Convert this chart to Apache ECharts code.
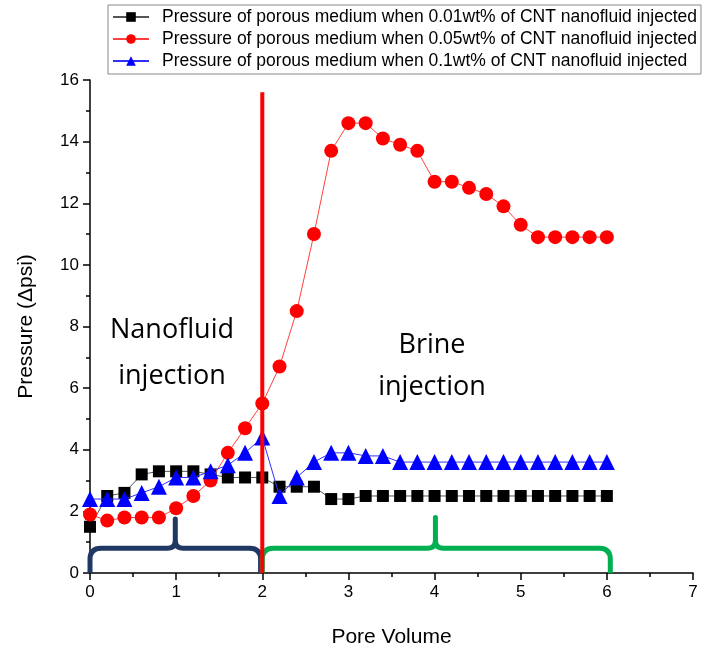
<!DOCTYPE html>
<html>
<head>
<meta charset="utf-8">
<script src="https://cdn.jsdelivr.net/npm/echarts@6/dist/echarts.min.js"></script>
<style>html,body{margin:0;padding:0;background:#fff}#c{width:704px;height:656px}</style>
</head>
<body>
<div id="c"></div>
<script>
var poreVolume = [0,0.2,0.4,0.6,0.8,1.0,1.2,1.4,1.6,1.8,2.0,2.2,2.4,2.6,2.8,3.0,3.2,3.4,3.6,3.8,4.0,4.2,4.4,4.6,4.8,5.0,5.2,5.4,5.6,5.8,6.0];
var p001 = [1.5,2.5,2.6,3.2,3.3,3.3,3.3,3.2,3.1,3.1,3.1,2.8,2.8,2.8,2.4,2.4,2.5,2.5,2.5,2.5,2.5,2.5,2.5,2.5,2.5,2.5,2.5,2.5,2.5,2.5,2.5];
var p005 = [1.9,1.7,1.8,1.8,1.8,2.1,2.5,3.0,3.9,4.7,5.5,6.7,8.5,11.0,13.7,14.6,14.6,14.1,13.9,13.7,12.7,12.7,12.5,12.3,11.9,11.3,10.9,10.9,10.9,10.9,10.9];
var p01  = [2.4,2.4,2.4,2.6,2.8,3.1,3.1,3.3,3.5,3.9,4.4,2.5,3.1,3.6,3.9,3.9,3.8,3.8,3.6,3.6,3.6,3.6,3.6,3.6,3.6,3.6,3.6,3.6,3.6,3.6,3.6];
var seriesNames = [
  'Pressure of porous medium when 0.01wt% of CNT nanofluid injected',
  'Pressure of porous medium when 0.05wt% of CNT nanofluid injected',
  'Pressure of porous medium when 0.1wt% of CNT nanofluid injected'
];
// divider line between injection stages
var dividerX = [2, 2];
var dividerY = [0, 15.6];
// braces: [start, end, level, tip x, tip height]
var braceNano  = [0, 1.98, 0.8, 0.99, 1.75];
var braceBrine = [2.0, 6.04, 0.8, 4.01, 1.8];
var xTicks = [0,1,2,3,4,5,6,7];

function pairs(xs, ys){ return xs.map(function(x,i){ return [x, ys[i]]; }); }

var chart = echarts.init(document.getElementById('c'));
var axisFont = {fontFamily:'Liberation Sans, Arial', fontSize:17, color:'#000'};
var annFont = {fontFamily:'Open Sans, Noto Sans', fontSize:27, fill:'#000', align:'center', verticalAlign:'middle'};

function braceItem(params, api){
  var x0 = api.value(0), x1 = api.value(1), h = api.value(2), tx = api.value(3), th = api.value(4);
  var a = api.coord([x0, 0]), b = api.coord([x1, 0]);
  var yh = api.coord([x0, h])[1];
  var tip = api.coord([tx, th]);
  var xm = tip[0], r = 11, rt = 8;
  var d = 'M' + a[0] + ' ' + a[1] +
    ' L' + a[0] + ' ' + (yh + r) +
    ' Q' + a[0] + ' ' + yh + ' ' + (a[0] + r) + ' ' + yh +
    ' L' + (xm - rt) + ' ' + yh +
    ' Q' + xm + ' ' + yh + ' ' + xm + ' ' + (yh - rt) +
    ' L' + xm + ' ' + tip[1] +
    ' L' + xm + ' ' + (yh - rt) +
    ' Q' + xm + ' ' + yh + ' ' + (xm + rt) + ' ' + yh +
    ' L' + (b[0] - r) + ' ' + yh +
    ' Q' + b[0] + ' ' + yh + ' ' + b[0] + ' ' + (yh + r) +
    ' L' + b[0] + ' ' + b[1];
  return {type:'path', shape:{pathData:d}, style:{fill:'none', stroke:api.visual('color'), lineWidth:5, lineJoin:'round', lineCap:'butt'}};
}

function txt(s, x, y){ return {type:'text', x:x, y:y, z:10, style:Object.assign({text:s}, annFont)}; }

chart.setOption({
  animation:false,
  backgroundColor:'#fff',
  grid:{left:90, right:11, top:80, bottom:83},
  legend:{
    data:seriesNames,
    orient:'vertical', left:108, top:5,
    borderColor:'#888', borderWidth:1, borderRadius:0,
    padding:[3,4,4,4], itemGap:4, itemWidth:36, itemHeight:12,
    textStyle:{fontFamily:'Liberation Sans, Arial', fontSize:17.5, color:'#000', padding:[0,0,0,8]}
  },
  xAxis:{
    type:'value', min:0, max:7, interval:1,
    name:'Pore Volume', nameLocation:'middle', nameGap:54,
    nameTextStyle:{fontFamily:'Liberation Sans, Arial', fontSize:21, color:'#000'},
    axisLine:{show:true, onZero:false, lineStyle:{color:'#000', width:1.5}},
    axisTick:{show:true, inside:false, length:7, lineStyle:{color:'#000', width:1.5}},
    minorTick:{show:true, splitNumber:2, length:4, lineStyle:{color:'#000', width:1.5}},
    axisLabel:Object.assign({margin:11, formatter:function(v){ return xTicks.indexOf(v) >= 0 ? String(v) : ''; }}, axisFont),
    splitLine:{show:false}
  },
  yAxis:{
    type:'value', min:0, max:16, interval:2,
    name:'Pressure (\u0394psi)', nameLocation:'middle', nameGap:53, nameRotate:90,
    nameTextStyle:{fontFamily:'Liberation Sans, Arial', fontSize:21, color:'#000'},
    axisLine:{show:true, lineStyle:{color:'#000', width:1.5}},
    axisTick:{show:true, inside:false, length:7, lineStyle:{color:'#000', width:1.5}},
    minorTick:{show:true, splitNumber:2, length:4, lineStyle:{color:'#000', width:1.5}},
    axisLabel:Object.assign({margin:11}, axisFont),
    splitLine:{show:false}
  },
  graphic:[
    txt('Nanofluid', 172, 330),
    txt('injection', 172, 376),
    txt('Brine', 432, 345),
    txt('injection', 432, 387)
  ],
  series:[
    {type:'custom', name:'braces', renderItem:braceItem, silent:true, z:1,
     encode:{x:[0,1,3], y:[2,4]},
     data:[{value:braceNano, itemStyle:{color:'#1f3864'}}, {value:braceBrine, itemStyle:{color:'#00b050'}}]},
    {type:'line', name:seriesNames[0], data:pairs(poreVolume,p001), symbol:'rect', symbolSize:12,
     itemStyle:{color:'#000'}, lineStyle:{color:'#555', width:1}, z:3},
    {type:'line', name:seriesNames[1], data:pairs(poreVolume,p005), symbol:'circle', symbolSize:14,
     itemStyle:{color:'#ff0000'}, lineStyle:{color:'#ff4040', width:1}, z:4},
    {type:'line', name:seriesNames[2], data:pairs(poreVolume,p01), symbol:'triangle', symbolSize:16,
     itemStyle:{color:'#0000ff'}, lineStyle:{color:'#3030ff', width:1}, z:5},
    {type:'line', name:'divider', data:pairs(dividerX,dividerY), symbol:'none',
     lineStyle:{color:'#ff0000', width:4}, z:6, silent:true}
  ]
});
</script>
</body>
</html>
